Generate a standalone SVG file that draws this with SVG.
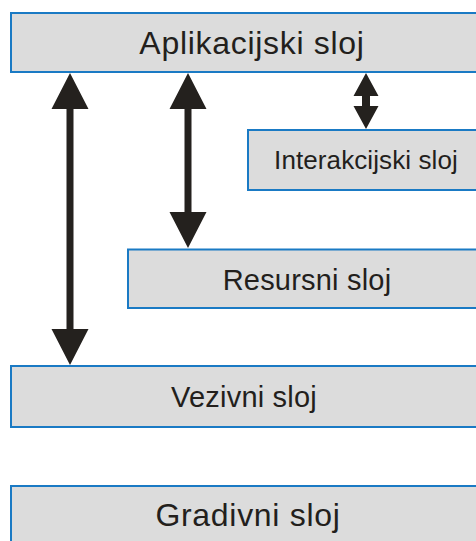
<svg xmlns="http://www.w3.org/2000/svg" width="476" height="541" viewBox="0 0 476 541">
<style>
.box{fill:#dcdcdc;stroke:#1a7ac4;stroke-width:2}
.lbl{font-family:"Liberation Sans",Arial,sans-serif;fill:#231f1c;text-anchor:middle}
.arr{fill:#24211e}
</style>
<rect width="476" height="541" fill="#ffffff"/>
<g id="aplikacijski">
<rect class="box" x="11" y="13" width="480" height="59"/>
<text class="lbl" x="252" y="54" font-size="32" letter-spacing="0.7">Aplikacijski sloj</text>
</g>
<g id="interakcijski">
<rect class="box" x="248" y="130" width="240" height="60"/>
<text class="lbl" x="366" y="169" font-size="26" letter-spacing="0.1">Interakcijski sloj</text>
</g>
<g id="resursni">
<rect class="box" x="128" y="249.5" width="360" height="58.5"/>
<text class="lbl" x="307" y="290" font-size="29" letter-spacing="0.2">Resursni sloj</text>
</g>
<g id="vezivni">
<rect class="box" x="11" y="366" width="480" height="61"/>
<text class="lbl" x="244" y="407" font-size="29" letter-spacing="0.2">Vezivni sloj</text>
</g>
<g id="gradivni">
<rect class="box" x="11" y="486" width="480" height="70"/>
<text class="lbl" x="248" y="526" font-size="32" letter-spacing="0.7">Gradivni sloj</text>
</g>
<g id="connectors" class="arr">
<path d="M70 73 L88.5 109 L73.5 109 L73.5 329 L88.5 329 L70 365 L51.5 329 L66.5 329 L66.5 109 L51.5 109 Z"/>
<path d="M188 73 L206.5 109 L191.5 109 L191.5 212 L206.5 212 L188 248 L169.5 212 L184.5 212 L184.5 109 L169.5 109 Z"/>
<path d="M366 73 L378.5 96 L370 96 L370 106 L378.5 106 L366 129 L353.5 106 L362 106 L362 96 L353.5 96 Z"/>
</g>
</svg>
